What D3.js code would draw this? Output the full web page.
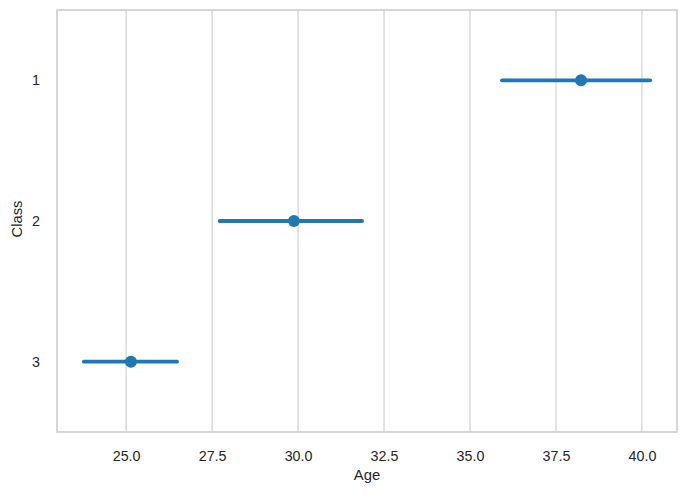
<!DOCTYPE html>
<html>
<head>
<meta charset="utf-8">
<script src="https://cdn.jsdelivr.net/npm/d3@7"></script>
<style>
  body { margin: 0; background: #fff; }
  text { font-family: "Liberation Sans", Arial, sans-serif; fill: #262626; }
</style>
</head>
<body>
<svg id="chart" width="687" height="496"></svg>
<script>
const categories = ["1", "2", "3"];
const means = [38.23, 29.88, 25.14];
const ciLow = [35.93, 27.72, 23.77];
const ciHigh = [40.24, 31.86, 26.48];
const xTicks = [25.0, 27.5, 30.0, 32.5, 35.0, 37.5, 40.0];
const xLabel = "Age";
const yLabel = "Class";

(function () {
const svg = d3.select("#chart");
const pLeft = 57, pRight = 677, pTop = 10, pBottom = 432;

const xScale = d3.scaleLinear().domain([22.99, 41.02]).range([pLeft, pRight]);
const yScale = d3.scalePoint().domain(categories).range([pTop, pBottom]).padding(0.5);

// grid lines
svg.append("g").selectAll("line").data(xTicks).join("line")
  .attr("x1", d => xScale(d)).attr("x2", d => xScale(d))
  .attr("y1", pTop).attr("y2", pBottom)
  .attr("stroke", "#cccccc").attr("stroke-width", 1.1);

// frame
svg.append("rect")
  .attr("x", pLeft).attr("y", pTop)
  .attr("width", pRight - pLeft).attr("height", pBottom - pTop)
  .attr("fill", "none").attr("stroke", "#cccccc").attr("stroke-width", 1.6);

// x axis
const xAxis = d3.axisBottom(xScale).tickValues(xTicks).tickFormat(d3.format(".1f")).tickSize(0).tickPadding(19);
const gx = svg.append("g").attr("transform", `translate(0,${pBottom})`).call(xAxis);
gx.select(".domain").remove();
gx.selectAll("text").attr("font-size", 14.3).attr("font-family", "Liberation Sans, Arial, sans-serif").attr("fill", "#262626");

// y axis
const yAxis = d3.axisLeft(yScale).tickSize(0).tickPadding(17);
const gy = svg.append("g").attr("transform", `translate(${pLeft},0)`).call(yAxis);
gy.select(".domain").remove();
gy.selectAll("text").attr("font-size", 14.3).attr("font-family", "Liberation Sans, Arial, sans-serif").attr("fill", "#262626");

// axis labels
svg.append("text").attr("x", (pLeft + pRight) / 2).attr("y", 480)
  .attr("text-anchor", "middle").attr("font-size", 14.8).text(xLabel);
svg.append("text").attr("transform", `translate(22,${(pTop + pBottom) / 2 - 2}) rotate(-90)`)
  .attr("text-anchor", "middle").attr("font-size", 14.8).text(yLabel);

// error bars
const color = "#1f77b4";
svg.append("g").selectAll("line").data(categories).join("line")
  .attr("x1", (d, i) => xScale(ciLow[i])).attr("x2", (d, i) => xScale(ciHigh[i]))
  .attr("y1", d => yScale(d)).attr("y2", d => yScale(d))
  .attr("stroke", color).attr("stroke-width", 3.8).attr("stroke-linecap", "round");

// points
svg.append("g").selectAll("circle").data(categories).join("circle")
  .attr("cx", (d, i) => xScale(means[i])).attr("cy", d => yScale(d))
  .attr("r", 6).attr("fill", color);
})();
</script>
</body>
</html>
